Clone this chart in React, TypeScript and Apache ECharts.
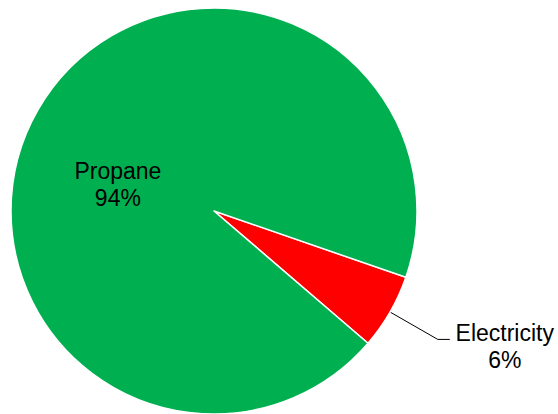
import React, { useEffect, useRef } from "react";
import * as echarts from "echarts";

// Share of energy by source, in percent
const categories: string[] = ["Electricity", "Propane"];
const shares: number[] = [6, 94];
const sliceColors: string[] = ["#FF0000", "#00B050"];

const FONT = "'Liberation Sans', Arial, Helvetica, sans-serif";
const FONT_SIZE = 23;
const LINE_HEIGHT = 27;

export default function App() {
  const ref = useRef<HTMLDivElement>(null);

  useEffect(() => {
    if (!ref.current) return;
    const chart = echarts.init(ref.current, undefined, { renderer: "svg" });

    const data = categories.map((name, i) => {
      const isInside = name === "Propane";
      return {
        name,
        value: shares[i],
        itemStyle: { color: sliceColors[i] },
        label: isInside
          ? {
              position: "inside" as const,
              formatter: "{b}\n{d}%",
              fontSize: FONT_SIZE,
              lineHeight: LINE_HEIGHT,
              color: "#000",
              fontFamily: FONT,
            }
          : {
              position: "outside" as const,
              formatter: "{a|{b}}\n{a|{d}%}",
              padding: [14, 0, 0, 0],
              rich: {
                a: {
                  width: 100,
                  align: "center" as const,
                  fontSize: FONT_SIZE,
                  lineHeight: LINE_HEIGHT,
                  color: "#000",
                  fontFamily: FONT,
                },
              },
            },
        labelLine: isInside
          ? { show: false }
          : {
              show: true,
              length: 55,
              length2: 12,
              smooth: false,
              lineStyle: { color: "#000", width: 1 },
            },
      };
    });

    chart.setOption({
      animation: false,
      backgroundColor: "#fff",
      series: [
        {
          type: "pie",
          center: [214, 211],
          radius: [0, 203],
          startAngle: -19.05,
          clockwise: true,
          avoidLabelOverlap: false,
          itemStyle: { borderColor: "#fff", borderWidth: 1.5 },
          emphasis: { disabled: true },
          label: { fontFamily: FONT, fontSize: FONT_SIZE, color: "#000" },
          // the inside label sits lower and a little left of the slice's mid-radius
          labelLayout: (params: any) =>
            categories[params.dataIndex] === "Propane" ? { dx: -5.5, dy: 26 } : {},
          data,
        },
      ],
    });

    return () => chart.dispose();
  }, []);

  return (
    <div
      ref={ref}
      style={{ position: "fixed", left: 0, top: 0, width: 558, height: 414 }}
    />
  );
}
